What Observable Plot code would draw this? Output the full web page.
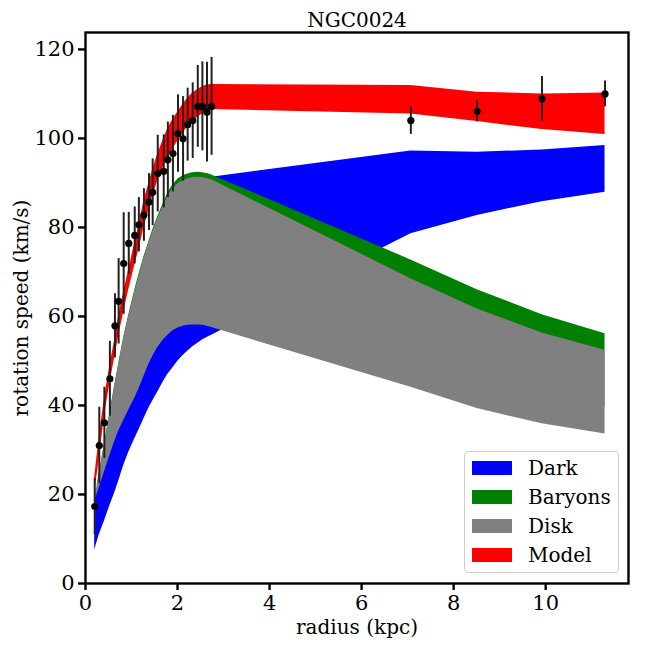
<!DOCTYPE html>
<html>
<head>
<meta charset="utf-8">
<script src="https://cdn.jsdelivr.net/npm/d3@7"></script>
<script src="https://cdn.jsdelivr.net/npm/@observablehq/plot@0.6"></script>
<style>
  html, body { margin: 0; padding: 0; background: white; }
  #wrap { position: relative; width: 648px; height: 648px; }
  #wrap svg [aria-label$="tick label"] { font-size: 21px !important; }
  #legend {
    position: absolute; left: 464px; top: 451px; width: 155px; height: 122px;
    border: 1px solid #d0d0d0; border-radius: 4px; background: rgba(255,255,255,0.8);
    box-sizing: border-box; font-family: "DejaVu Serif", serif; font-size: 20px; color: black;
  }
  .row { position: absolute; left: 7px; height: 22px; display: flex; align-items: center; }
  .sw { width: 40px; height: 14px; margin-right: 16px; }
</style>
</head>
<body>
<div id="wrap"></div>
<script>
// ---- data ----
const radius = [0.20,0.30,0.41,0.53,0.64,0.72,0.83,0.94,1.07,1.16,1.27,1.38,1.46,1.57,1.70,1.79,1.90,2.01,2.12,2.22,2.33,2.44,2.54,2.64,2.74,7.07,8.51,9.92,11.29];
const vObs   = [17.3,31.0,36.1,46.0,57.9,63.4,71.9,76.4,78.2,80.6,82.8,85.7,87.9,92.1,92.6,95.2,96.6,101.1,99.9,103.1,104.0,107.2,107.2,105.9,107.2,104.0,106.1,108.9,110.0];
const vErr   = [6.3,8.6,8.0,8.4,7.2,9.6,11.4,7.0,6.4,6.1,5.9,6.4,7.5,8.6,8.2,8.5,8.6,8.7,9.5,8.2,8.5,9.2,10.0,11.2,11.0,3.1,2.4,5.0,2.9];

const darkLo   = [7.5,11,14,17.5,20.5,23,26.5,29.5,32.5,34.5,37,39.5,41,43,45.5,47,48.5,50,51.2,52.2,53.2,54,54.7,55.3,55.8,78.6,82.7,85.8,87.9];
const darkHi   = [19,23,28,33,37,40,44,48,52,55,58,61,63.5,66,69.5,72,75,78,80.5,83,85.5,87.5,89,90.3,91.3,97.2,96.9,97.4,98.4];
const baryonLo = [20.5,23.5,27,31,34,36.5,39,41.5,44,46,49,51.8,53.5,55.5,57.3,58.3,59.3,59.9,60.3,60.5,60.6,60.6,60.5,60.3,60,49,45,42,39.6];
const baryonHi = [19.3,24.8,31.3,38.3,44.8,49.3,55.3,60.3,65.9,69.4,73.4,76.9,79.4,82.4,85.6,87.8,89.6,90.9,91.6,92,92.3,92.4,92.3,92.1,91.8,72.7,66.0,60.4,56.1];
const diskLo   = [18.5,21.5,25,28.8,32,34.2,36.6,39,41.6,43.7,46.5,49.3,51,53,54.8,55.8,56.8,57.4,57.8,58,58.1,58.1,58,57.8,57.5,44.1,39.3,35.9,33.6];
const diskHi   = [19,24.5,31,38,44.5,49,55,60,65.5,69,73,76.5,79,82,85,87,88.7,89.8,90.5,90.9,91.2,91.3,91.2,91,90.7,68.5,61.7,56.3,52.4];
const modelLo  = [20.5,28,37.5,45,51,55.5,61,66,71.5,75,80,84,87,90.5,93.8,95.5,97.7,99.5,101.2,102.6,103.8,104.8,105.5,106,106.5,105.5,103.8,102.0,100.9];
const modelHi  = [24,33,41.5,49,55,60,65.5,70.5,76.5,80.5,86,90,93,96.5,100,102.3,104.3,106,107.7,109,110.2,111,111.6,112,112.1,111.9,110.4,110.0,110.2];

const xTicks = [0,2,4,6,8,10];
const yTicks = [0,20,40,60,80,100,120];
const galaxy = ["NGC0024"];
const legendItems = [["Dark","blue"],["Baryons","green"],["Disk","gray"],["Model","red"]];

// ---- tables ----
const band = (lo, hi) => radius.map((r, i) => ({r, lo: lo[i], hi: hi[i]}));
const obs = radius.map((r, i) => ({r, v: vObs[i], e: vErr[i]}));

const chart = Plot.plot({
  width: 648,
  height: 648,
  marginLeft: 85,
  marginRight: 20,
  marginTop: 32,
  marginBottom: 65,
  style: {fontFamily: "DejaVu Serif", fontSize: "20px", color: "black", background: "white"},
  x: {domain: [0, 11.8]},
  y: {domain: [0, 123.8]},
  marks: [
    Plot.areaY(band(darkLo, darkHi), {x: "r", y1: "lo", y2: "hi", fill: "blue"}),
    Plot.areaY(band(baryonLo, baryonHi), {x: "r", y1: "lo", y2: "hi", fill: "green"}),
    Plot.areaY(band(diskLo, diskHi), {x: "r", y1: "lo", y2: "hi", fill: "gray"}),
    Plot.areaY(band(modelLo, modelHi), {x: "r", y1: "lo", y2: "hi", fill: "red"}),
    Plot.ruleX(obs, {x: "r", y1: d => d.v - d.e, y2: d => d.v + d.e, stroke: "#222", strokeWidth: 2}),
    Plot.dot(obs, {x: "r", y: "v", r: 3.6, fill: "black"}),
    Plot.frame({stroke: "black", strokeWidth: 2.4}),
    Plot.axisX({ticks: xTicks, tickSize: 7, tickPadding: 5, strokeWidth: 2.4, fontSize: 21,
      label: null}),
    Plot.axisY({ticks: yTicks, tickSize: 7, tickPadding: 4, strokeWidth: 2.4, fontSize: 21,
      label: null}),
    Plot.axisX({ticks: [], tickSize: 0, fontSize: 20, label: "radius (kpc)",
      labelAnchor: "center", labelArrow: "none", labelOffset: 50}),
    Plot.axisY({ticks: [], tickSize: 0, fontSize: 20, label: "rotation speed (km/s)",
      labelAnchor: "center", labelArrow: "none", labelOffset: 72}),
    Plot.text(galaxy, {text: d => d, frameAnchor: "top", lineAnchor: "bottom", dy: -6, fontSize: 20})
  ]
});

const wrap = document.getElementById("wrap");
wrap.appendChild(chart);

const leg = document.createElement("div");
leg.id = "legend";
legendItems.forEach(([name, color], i) => {
  const row = document.createElement("div");
  row.className = "row";
  row.style.top = (5 + i * 29) + "px";
  const sw = document.createElement("div");
  sw.className = "sw";
  sw.style.background = color;
  const t = document.createElement("span");
  t.textContent = name;
  row.appendChild(sw);
  row.appendChild(t);
  leg.appendChild(row);
});
wrap.appendChild(leg);
</script>
</body>
</html>
